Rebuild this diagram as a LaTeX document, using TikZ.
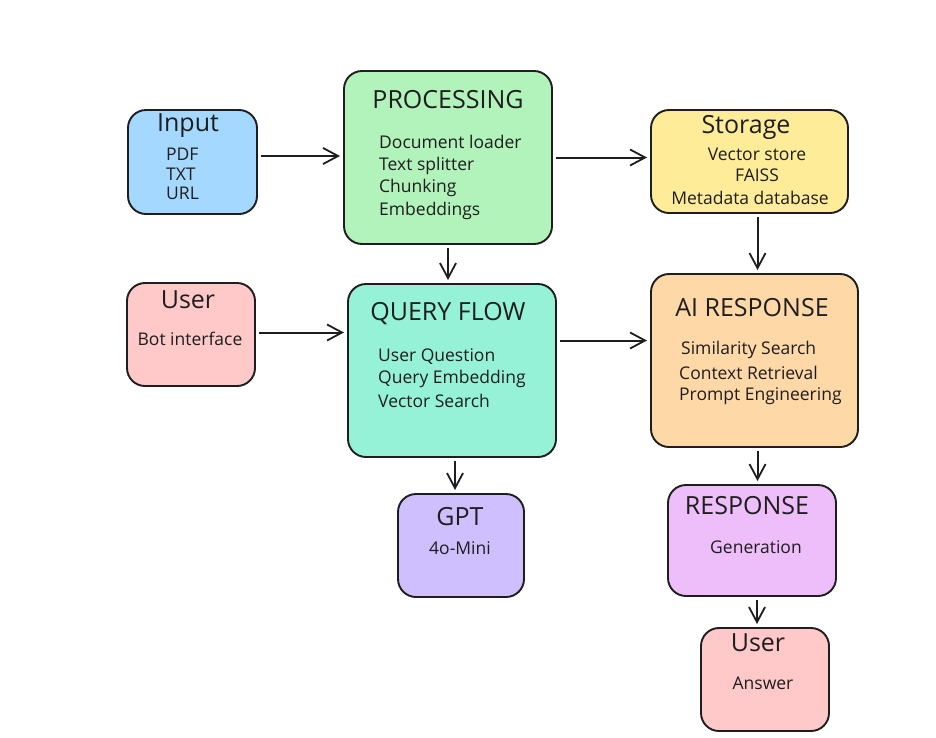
\documentclass[tikz,border=0pt]{standalone}
\usepackage{fontspec}
\setmainfont{Open Sans}
\usetikzlibrary{arrows.meta}
\definecolor{ink}{HTML}{1E1E1E}
\definecolor{cblue}{HTML}{A5D8FF}
\definecolor{cgreen}{HTML}{B2F2BB}
\definecolor{cyellow}{HTML}{FFEC99}
\definecolor{cred}{HTML}{FFC9C9}
\definecolor{cteal}{HTML}{96F2D7}
\definecolor{cviolet}{HTML}{D0BFFF}
\definecolor{corange}{HTML}{FFD8A8}
\definecolor{cgrape}{HTML}{EEBEFA}
\tikzset{
  box/.style={draw=ink, line width=1.9pt, rounded corners=18pt, inner sep=0pt, outer sep=0pt},
  ttl/.style={font=\fontsize{25}{28}\selectfont, text=ink, inner sep=0pt},
  itm/.style={font=\fontsize{17.5}{20}\selectfont, text=ink, inner sep=0pt},
  arr/.style={draw=ink, line width=2pt, -{Straight Barb[length=15pt,width=16pt,line width=1.8pt]}, shorten >=4pt, shorten <=4pt}
}
\begin{document}
\begin{tikzpicture}[x=1pt,y=-1pt]
\useasboundingbox (0,0) rectangle (936,737);
\fill[white] (0,0) rectangle (936,737);
% boxes
\node[box, fill=cblue, minimum width=129pt, minimum height=104pt] (input) at (192.5,162) {};
\node[box, fill=cgreen, minimum width=208pt, minimum height=173pt] (proc) at (448,157.5) {};
\node[box, fill=cyellow, minimum width=197pt, minimum height=103pt] (storage) at (749.5,161.5) {};
\node[box, fill=cred, minimum width=128pt, minimum height=103pt] (user1) at (191,334.5) {};
\node[box, fill=cteal, minimum width=208pt, minimum height=173pt] (qflow) at (452,370.5) {};
\node[box, fill=cviolet, minimum width=126pt, minimum height=103pt] (gpt) at (461,545.5) {};
\node[box, fill=corange, minimum width=207pt, minimum height=173pt] (airesp) at (754.5,360.5) {};
\node[box, fill=cgrape, minimum width=168pt, minimum height=111pt] (resp) at (752,540.5) {};
\node[box, fill=cred, minimum width=128pt, minimum height=103pt] (user2) at (765,679.5) {};
% texts
\node[ttl] (inputT) at (188,126) {Input};
\node[itm, anchor=west] (inputA) at (166,154) {PDF};
\node[itm, anchor=west] (inputB) at (166,174) {TXT};
\node[itm, anchor=west] (inputC) at (166,193) {URL};

\node[ttl] (procT) at (448,100) {PROCESSING};
\node[itm, anchor=west] (procA) at (379,142) {Document loader};
\node[itm, anchor=west] (procB) at (379,166) {Text splitter};
\node[itm, anchor=west] (procC) at (379,188) {Chunking};
\node[itm, anchor=west] (procD) at (379,211) {Embeddings};

\node[ttl] (storT) at (746,127) {Storage};
\node[itm] (storA) at (757,154) {Vector store};
\node[itm] (storB) at (757,175) {FAISS};
\node[itm] (storC) at (750,198) {Metadata database};

\node[ttl] (user1T) at (188,300) {User};
\node[itm] (user1A) at (190,339) {Bot interface};

\node[ttl] (qflowT) at (448,314) {QUERY FLOW};
\node[itm, anchor=west] (qflowA) at (378,357) {User Question};
\node[itm, anchor=west] (qflowB) at (378,379) {Query Embedding};
\node[itm, anchor=west] (qflowC) at (378,401) {Vector Search};

\node[ttl] (gptT) at (460,517) {GPT};
\node[itm] (gptA) at (460,548) {4o-Mini};

\node[ttl] (airT) at (752,308) {AI RESPONSE};
\node[itm, anchor=west] (airA) at (681,350) {Similarity Search};
\node[itm, anchor=west] (airB) at (679,373) {Context Retrieval};
\node[itm, anchor=west] (airC) at (679,396) {Prompt Engineering};

\node[ttl] (respT) at (747,506) {RESPONSE};
\node[itm] (respA) at (756,547) {Generation};

\node[ttl] (user2T) at (758,643) {User};
\node[itm] (user2A) at (763,683) {Answer};
% connectors
\draw[arr] ([yshift=6pt]input.east) -- ([yshift=6pt]input.east -| proc.west);
\draw[arr] (proc.east) -- (proc.east -| storage.west);
\draw[arr] (proc.south) -- (proc.south |- qflow.north);
\draw[arr] ([xshift=8pt]storage.south) -- ([xshift=8pt]storage.south |- airesp.north);
\draw[arr] ([yshift=2pt]user1.east) -- ([yshift=2pt]user1.east -| qflow.west);
\draw[arr] ([yshift=30pt]qflow.east) -- ([yshift=30pt]qflow.east -| airesp.west);
\draw[arr] ([xshift=3pt]qflow.south) -- ([xshift=3pt]qflow.south |- gpt.north);
\draw[arr] ([xshift=3pt]airesp.south) -- ([xshift=3pt]airesp.south |- resp.north);
\draw[arr] ([xshift=5pt]resp.south) -- ([xshift=5pt]resp.south |- user2.north);
\end{tikzpicture}
\end{document}
